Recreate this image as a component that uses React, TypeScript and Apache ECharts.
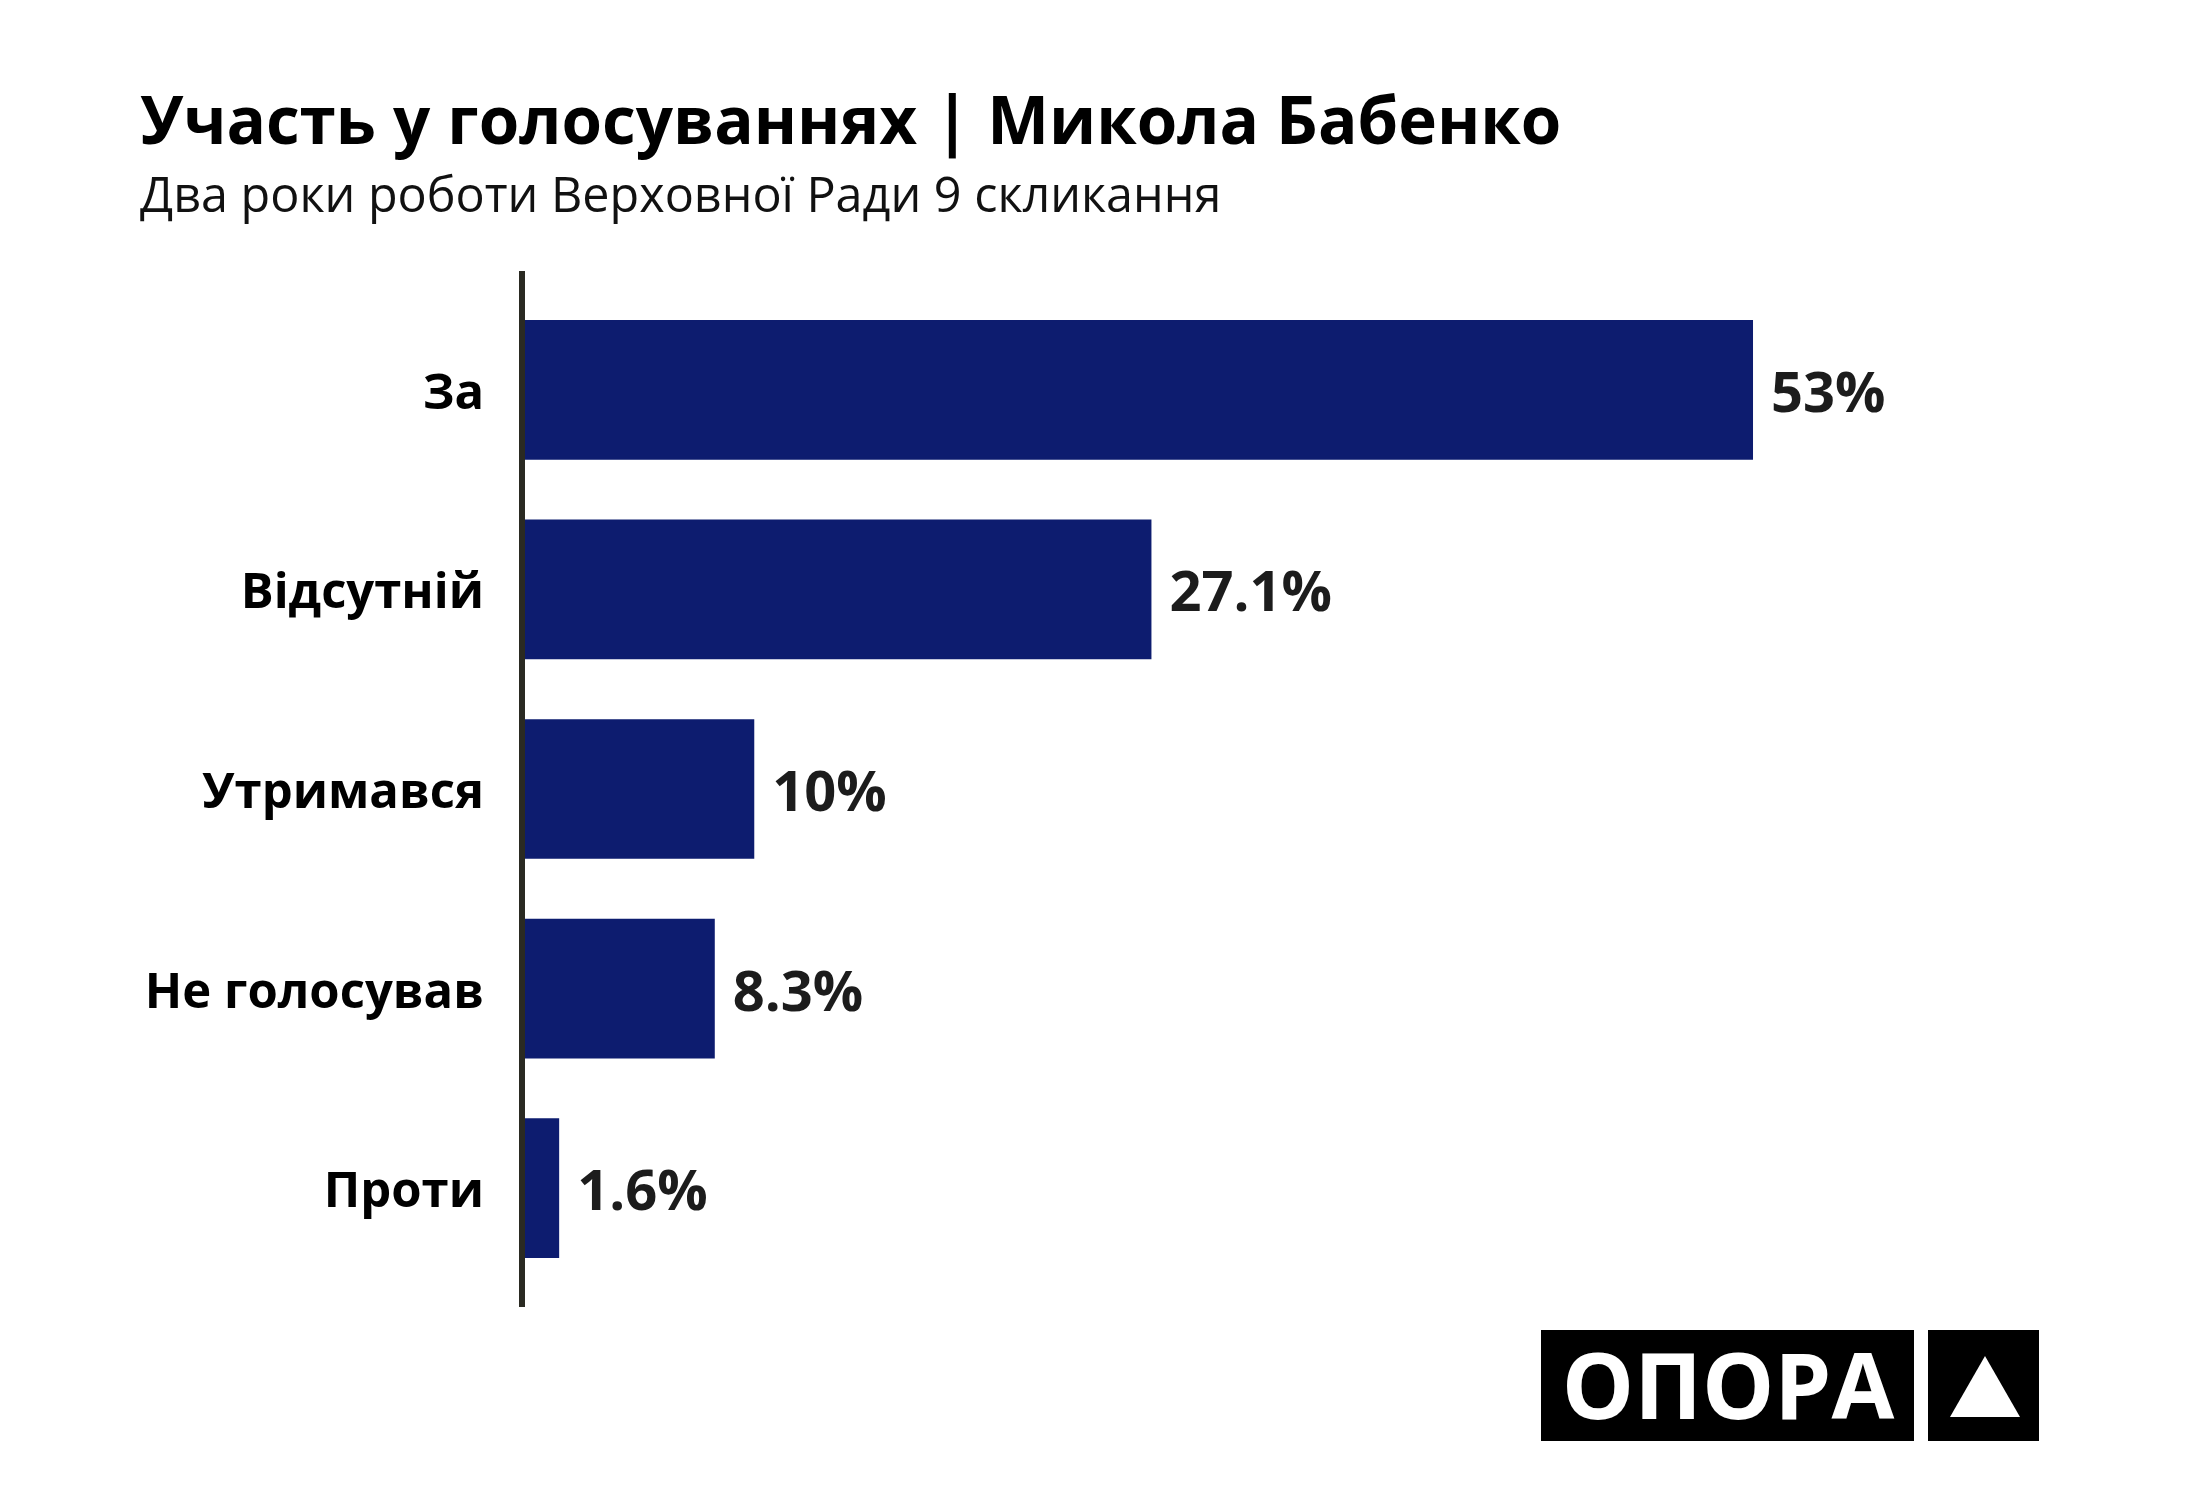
import React, { useEffect, useRef } from "react";
import * as echarts from "echarts";

const categories = ["За", "Відсутній", "Утримався", "Не голосував", "Проти"];
const shares = [53, 27.1, 10, 8.3, 1.6];
const titleText = "Участь у голосуваннях | Микола Бабенко";
const subtitleText = "Два роки роботи Верховної Ради 9 скликання";
const logoText = "ОПОРА";

const FONT = "'Open Sans', 'Noto Sans', sans-serif";
const BAR_COLOR = "#0d1c6f";

export default function App() {
  const ref = useRef<HTMLDivElement>(null);

  useEffect(() => {
    document.body.style.margin = "0";
    if (!ref.current) return;
    const chart = echarts.init(ref.current, null, { renderer: "svg" });
    chart.setOption({
      animation: false,
      backgroundColor: "#ffffff",
      title: [
        {
          text: titleText,
          left: 140,
          top: 85,
          padding: 0,
          textStyle: { fontFamily: FONT, fontSize: 65.5, fontWeight: "bold", color: "#000000" },
        },
        {
          text: subtitleText,
          left: 140,
          top: 168,
          padding: 0,
          textStyle: { fontFamily: FONT, fontSize: 48.5, fontWeight: "normal", color: "#111111" },
        },
      ],
      grid: { left: 522, right: 284.4, top: 290, bottom: 212, containLabel: false },
      xAxis: {
        type: "value",
        min: 0,
        max: 60,
        show: false,
      },
      yAxis: {
        type: "category",
        data: categories,
        inverse: true,
        axisLine: { show: false },
        axisTick: { show: false },
        splitLine: { show: false },
        axisLabel: {
          margin: 38,
          fontFamily: FONT,
          fontSize: 49,
          fontWeight: "bold",
          color: "#000000",
        },
      },
      series: [
        {
          type: "bar",
          data: shares,
          barCategoryGap: "30%",
          itemStyle: { color: BAR_COLOR },
          label: {
            show: true,
            position: "right",
            distance: 18,
            formatter: "{c}%",
            fontFamily: FONT,
            fontSize: 56,
            fontWeight: "bold",
            color: "#1c1c1c",
          },
        },
      ],
      graphic: [
        {
          type: "line",
          z: 10,
          shape: { x1: 522, y1: 271, x2: 522, y2: 1307 },
          style: { stroke: "#2a2a22", lineWidth: 6 },
        },
        {
          type: "rect",
          shape: { x: 1541, y: 1330, width: 373, height: 111 },
          style: { fill: "#000000" },
        },
        {
          type: "text",
          x: 1728,
          y: 1384,
          style: {
            text: logoText,
            fontFamily: FONT,
            fontSize: 91,
            fontWeight: "bold",
            fill: "#ffffff",
            align: "center",
            verticalAlign: "middle",
          },
        },
        {
          type: "rect",
          shape: { x: 1928, y: 1330, width: 111, height: 111 },
          style: { fill: "#000000" },
        },
        {
          type: "polygon",
          shape: { points: [[1985, 1356], [2020, 1417], [1950, 1417]] },
          style: { fill: "#ffffff" },
        },
      ],
    });
    return () => chart.dispose();
  }, []);

  return <div ref={ref} style={{ width: 2200, height: 1500 }} />;
}
